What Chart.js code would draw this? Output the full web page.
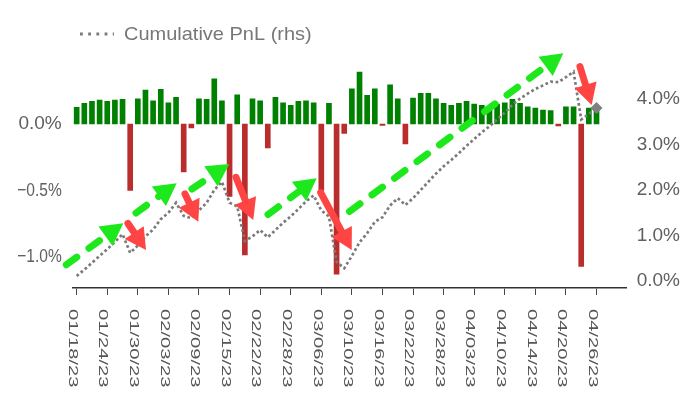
<!DOCTYPE html>
<html>
<head>
<meta charset="utf-8">
<script src="https://cdn.jsdelivr.net/npm/chart.js@4.4.1/dist/chart.umd.min.js"></script>
<style>
  html, body { margin: 0; padding: 0; background: #ffffff; }
  #wrap { width: 700px; height: 394px; }
</style>
</head>
<body>
<div id="wrap"><canvas id="c" width="700" height="394"></canvas></div>
<script>
// ---------------- DATA ----------------
const dateLabels = [
  '01/18/23','01/19/23','01/20/23','01/23/23','01/24/23','01/25/23','01/26/23','01/27/23','01/30/23','01/31/23',
  '02/01/23','02/02/23','02/03/23','02/06/23','02/07/23','02/08/23','02/09/23','02/10/23','02/13/23','02/14/23',
  '02/15/23','02/16/23','02/17/23','02/21/23','02/22/23','02/23/23','02/24/23','02/27/23','02/28/23','03/01/23',
  '03/02/23','03/03/23','03/06/23','03/07/23','03/08/23','03/09/23','03/10/23','03/13/23','03/14/23','03/15/23',
  '03/16/23','03/17/23','03/20/23','03/21/23','03/22/23','03/23/23','03/24/23','03/27/23','03/28/23','03/29/23',
  '03/30/23','03/31/23','04/03/23','04/04/23','04/05/23','04/06/23','04/10/23','04/11/23','04/12/23','04/13/23',
  '04/14/23','04/17/23','04/18/23','04/19/23','04/20/23','04/21/23','04/24/23','04/25/23','04/26/23'
];

// daily PnL (%), left axis
const dailyPnL = [
  0.125,0.155,0.17,0.18,0.17,0.18,0.185,-0.50,0.19,0.255,
  0.175,0.26,0.16,0.20,-0.36,-0.03,0.19,0.185,0.34,0.175,
  -0.545,0.22,-0.985,0.19,0.175,-0.18,0.20,0.16,0.14,0.17,
  0.175,0.16,-0.50,0.155,-1.13,-0.07,0.265,0.39,0.215,0.265,
  -0.01,0.295,0.19,-0.15,0.195,0.23,0.23,0.19,0.155,0.14,
  0.155,0.17,0.15,0.14,0.13,0.15,0.16,0.185,0.155,0.13,
  0.12,0.105,0.10,-0.015,0.13,0.13,-1.07,0.12,0.105
];

// cumulative PnL (%), right axis
const cumPnL = [
  0.11,0.25,0.40,0.55,0.70,0.86,1.03,0.62,0.78,0.98,
  1.13,1.36,1.50,1.72,1.43,1.38,1.55,1.72,2.00,2.18,
  1.72,1.64,0.88,0.98,1.12,0.96,1.12,1.28,1.42,1.58,
  1.75,1.88,1.55,1.42,0.42,0.28,0.55,0.85,1.05,1.30,
  1.40,1.66,1.82,1.67,1.82,2.00,2.18,2.36,2.52,2.66,
  2.81,2.97,3.12,3.27,3.40,3.55,3.70,3.87,4.01,4.12,
  4.22,4.30,4.38,4.37,4.48,4.60,3.55,3.67,3.80
];

// trend arrows: start/end as (day index, right-axis value)
const upArrowStartIdx = [-1.36, 7.76, 15.08, 25.03, 35.69];
const upArrowStartVal = [0.358, 1.495, 2.022, 1.462, 1.527];
const upArrowEndIdx   = [6.10, 13.08, 19.96, 31.40, 63.66];
const upArrowEndVal   = [1.268, 2.147, 2.571, 2.257, 5.004];

const downArrowStartIdx = [6.71, 14.17, 20.84, 31.92, 65.84];
const downArrowStartVal = [1.264, 1.912, 2.279, 1.941, 4.710];
const downArrowEndIdx   = [9.07, 15.91, 23.10, 35.98, 67.37];
const downArrowEndVal   = [0.681, 1.303, 1.341, 0.681, 3.868];

const leftTickStep = 0.5;
const rightTickStep = 1;
const xTickEvery = 4;
const legendLabel = 'Cumulative PnL (rhs)';

// ---------------- STYLE ----------------
const FONT = '"Liberation Sans", Arial, Helvetica, sans-serif';
const POS_COLOR = '#008000';
const NEG_COLOR = '#b92d2d';
const LINE_COLOR = '#7a7a7a';
const UP_COLOR = 'rgb(28,232,28)';
const DOWN_COLOR = 'rgb(255,68,68)';
const TEXT_COLOR = '#606060';

const barPoints = dailyPnL.map((v, i) => ({ x: i, y: v }));
const linePoints = cumPnL.map((v, i) => ({ x: i, y: v }));
const lastIdx = cumPnL.length - 1;

function pct(v) {
  const s = Math.abs(v).toFixed(1) + '%';
  return (v < -1e-9 ? '\u2212' : '') + s;
}

function drawArrow(ctx, x0, y0, x1, y1, color, width, dash, headLen, headHalf) {
  const ang = Math.atan2(y1 - y0, x1 - x0);
  const c = Math.cos(ang), s = Math.sin(ang);
  const bx = x1 - headLen * c, by = y1 - headLen * s;
  ctx.save();
  ctx.strokeStyle = color;
  ctx.fillStyle = color;
  ctx.lineWidth = width;
  ctx.lineCap = 'round';
  ctx.setLineDash(dash);
  ctx.beginPath();
  ctx.moveTo(x0, y0);
  ctx.lineTo(bx + 2 * c, by + 2 * s);
  ctx.stroke();
  ctx.setLineDash([]);
  ctx.beginPath();
  ctx.moveTo(x1, y1);
  ctx.lineTo(bx + headHalf * s, by - headHalf * c);
  ctx.lineTo(bx - headHalf * s, by + headHalf * c);
  ctx.closePath();
  ctx.fill();
  ctx.restore();
}

function drawYLabels(ctx, scale, x, align) {
  ctx.save();
  ctx.fillStyle = TEXT_COLOR;
  ctx.font = '19px ' + FONT;
  ctx.textAlign = align;
  ctx.textBaseline = 'middle';
  scale.ticks.forEach(t => {
    const txt = pct(t.value);
    const w = ctx.measureText(txt).width;
    const k = Math.min(1, 44.5 / w);
    const py = scale.getPixelForValue(t.value);
    ctx.save();
    ctx.translate(x, py);
    ctx.scale(k, 1);
    ctx.fillText(txt, 0, 0);
    ctx.restore();
  });
  ctx.restore();
}

const annotPlugin = {
  id: 'annot',
  afterDatasetsDraw(chart) {
    const ctx = chart.ctx;
    const xs = chart.scales.x, ys = chart.scales.y1;
    for (let k = 0; k < upArrowStartIdx.length; k++) {
      drawArrow(ctx,
        xs.getPixelForValue(upArrowStartIdx[k]), ys.getPixelForValue(upArrowStartVal[k]),
        xs.getPixelForValue(upArrowEndIdx[k]), ys.getPixelForValue(upArrowEndVal[k]),
        UP_COLOR, 7, [13, 15], 22, 12);
    }
    for (let k = 0; k < downArrowStartIdx.length; k++) {
      drawArrow(ctx,
        xs.getPixelForValue(downArrowStartIdx[k]), ys.getPixelForValue(downArrowStartVal[k]),
        xs.getPixelForValue(downArrowEndIdx[k]), ys.getPixelForValue(downArrowEndVal[k]),
        DOWN_COLOR, 7, [], 21, 11.5);
    }
  },
  afterDraw(chart) {
    const ctx = chart.ctx;
    const xs = chart.scales.x;
    // y tick labels
    drawYLabels(ctx, chart.scales.y, chart.scales.y.right - 11, 'right');
    drawYLabels(ctx, chart.scales.y1, chart.scales.y1.left + 10, 'left');
    // x tick labels, rotated clockwise
    ctx.save();
    ctx.fillStyle = '#555555';
    ctx.font = '12px ' + FONT;
    ctx.textAlign = 'left';
    ctx.textBaseline = 'alphabetic';
    xs.ticks.forEach(t => {
      const lab = dateLabels[Math.round(t.value)];
      if (lab === undefined) return;
      const px = xs.getPixelForValue(t.value);
      ctx.save();
      ctx.translate(px - 7.8, 309);
      ctx.rotate(Math.PI / 2);
      ctx.scale(1.68, 1);
      ctx.fillText(lab, 0, 0);
      ctx.restore();
    });
    ctx.restore();
    // legend
    ctx.save();
    ctx.strokeStyle = LINE_COLOR;
    ctx.lineWidth = 2.8;
    ctx.setLineDash([2.8, 5.4]);
    ctx.beginPath();
    ctx.moveTo(80, 34);
    ctx.lineTo(114, 34);
    ctx.stroke();
    ctx.setLineDash([]);
    ctx.fillStyle = '#777777';
    ctx.font = '17.7px ' + FONT;
    ctx.textBaseline = 'alphabetic';
    ctx.translate(124, 40);
    ctx.scale(1.13, 1);
    ctx.fillText(legendLabel, 0, 0);
    ctx.restore();
  }
};

const chart = new Chart(document.getElementById('c'), {
  type: 'bar',
  data: {
    datasets: [
      {
        type: 'line',
        label: legendLabel,
        data: linePoints,
        xAxisID: 'x',
        yAxisID: 'y1',
        borderColor: LINE_COLOR,
        borderWidth: 2.7,
        borderDash: [2.7, 2.6],
        tension: 0,
        fill: false,
        pointStyle: 'rectRot',
        pointRadius: ctx => ctx.dataIndex === lastIdx ? 6 : 0,
        pointHoverRadius: 0,
        pointBackgroundColor: '#808080',
        pointBorderColor: '#808080',
        pointBorderWidth: 0,
        order: 1
      },
      {
        type: 'bar',
        label: 'Daily PnL',
        data: barPoints,
        xAxisID: 'x',
        yAxisID: 'y',
        backgroundColor: ctx => (ctx.raw && ctx.raw.y < 0) ? NEG_COLOR : POS_COLOR,
        borderWidth: 0,
        barThickness: 5,
        order: 2
      }
    ]
  },
  options: {
    responsive: false,
    animation: false,
    devicePixelRatio: 1,
    events: [],
    layout: { padding: { top: 60, left: 0, right: 0, bottom: 0 } },
    plugins: {
      legend: { display: false },
      tooltip: { enabled: false },
      title: { display: false }
    },
    scales: {
      x: {
        type: 'linear',
        position: 'bottom',
        offset: false,
        min: -0.52,
        max: 71.95,
        afterFit: s => { s.height = 106; },
        ticks: { display: false, stepSize: xTickEvery, autoSkip: false, includeBounds: false },
        grid: {
          display: true, offset: false, drawOnChartArea: false, drawTicks: true,
          tickLength: 7, tickColor: '#444444', tickWidth: 1
        },
        border: { display: true, color: '#333333', width: 1.6 }
      },
      y: {
        type: 'linear',
        position: 'left',
        min: -(288 - 124) / 133,
        max: (124 - 60) / 133,
        afterFit: s => { s.width = 72.7; },
        grid: { display: false, drawTicks: false },
        border: { display: false },
        ticks: { display: false, stepSize: leftTickStep, includeBounds: false }
      },
      y1: {
        type: 'linear',
        position: 'right',
        min: -(288 - 281) / 45.5,
        max: (281 - 60) / 45.5,
        afterFit: s => { s.width = 73.3; },
        grid: { display: false, drawTicks: false },
        border: { display: false },
        ticks: { display: false, stepSize: rightTickStep, includeBounds: false }
      }
    }
  },
  plugins: [annotPlugin]
});
</script>
</body>
</html>
